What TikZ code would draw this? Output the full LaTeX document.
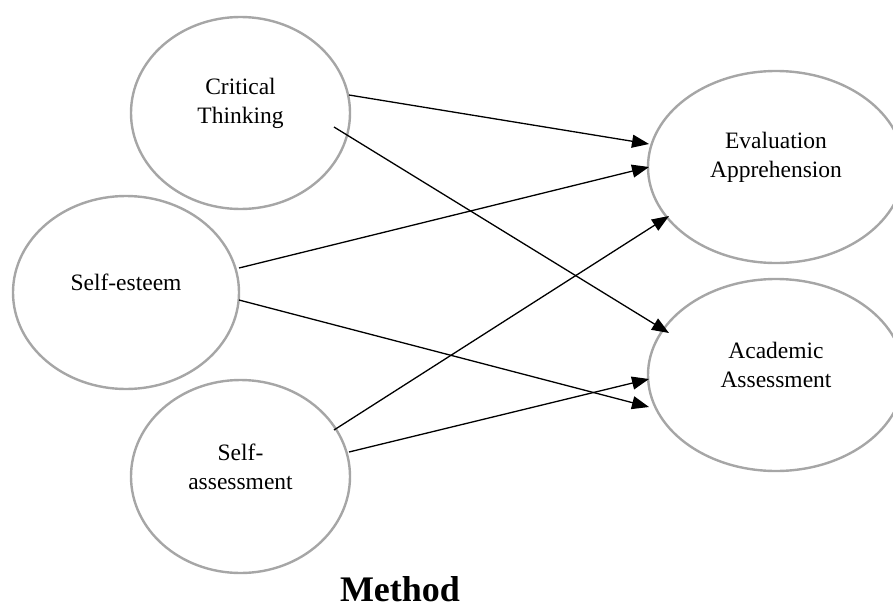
\documentclass[tikz,border=0pt]{standalone}
\usepackage{fontspec}
\setmainfont{Liberation Serif}
\usetikzlibrary{shapes.geometric,arrows.meta}

\begin{document}
\begin{tikzpicture}[x=1pt,y=-1pt,
  oval/.style={ellipse, draw=black!35, line width=2.4pt, inner sep=0pt},
  lbl/.style={align=center, font=\fontsize{23.5}{29}\selectfont, inner sep=0pt},
  path/.style={draw=black, line width=1.3pt, -{Triangle[length=17pt,width=13pt]}},
  ]
  \useasboundingbox (0,0) rectangle (893,610);
  \clip (0,0) rectangle (893,610);

  % latent constructs
  \node[oval, minimum width=219pt, minimum height=192pt] (ct) at (240.5,113) {};
  \node[oval, minimum width=226pt, minimum height=193pt] (se) at (126,292.5) {};
  \node[oval, minimum width=219pt, minimum height=193pt] (sa) at (240.5,476.5) {};
  \node[oval, minimum width=256pt, minimum height=192pt] (ea) at (776,167) {};
  \node[oval, minimum width=256pt, minimum height=192pt] (aa) at (776,375) {};

  \node[lbl] (ct-t) at ([yshift=10pt]ct.center) {Critical\\Thinking};
  \node[lbl] (se-t) at ([yshift=10pt]se.center) {Self-esteem};
  \node[lbl] (sa-t) at ([yshift=10pt]sa.center) {Self-\\assessment};
  \node[lbl] (ea-t) at ([yshift=10pt]ea.center) {Evaluation\\Apprehension};
  \node[lbl] (aa-t) at ([yshift=10pt]aa.center) {Academic\\Assessment};

  % path end points
  \coordinate (ct-o1) at (349,95);
  \coordinate (ct-o2) at (334,127);
  \coordinate (se-o1) at (239,268);
  \coordinate (se-o2) at (239,300);
  \coordinate (sa-o1) at (334,430);
  \coordinate (sa-o2) at (349,452);
  \coordinate (ea-i1) at (649,144);
  \coordinate (ea-i2) at (649,167);
  \coordinate (ea-i3) at (669,216);
  \coordinate (aa-i1) at (669,333);
  \coordinate (aa-i2) at (649,379);
  \coordinate (aa-i3) at (649,407);

  % structural paths
  \draw[path] (ct-o1) -- (ea-i1);
  \draw[path] (ct-o2) -- (aa-i1);
  \draw[path] (se-o1) -- (ea-i2);
  \draw[path] (se-o2) -- (aa-i3);
  \draw[path] (sa-o1) -- (ea-i3);
  \draw[path] (sa-o2) -- (aa-i2);

  \node[font=\fontsize{36}{40}\selectfont\bfseries, inner sep=0pt, anchor=base] (title) at (400,601) {Method};
\end{tikzpicture}
\end{document}
